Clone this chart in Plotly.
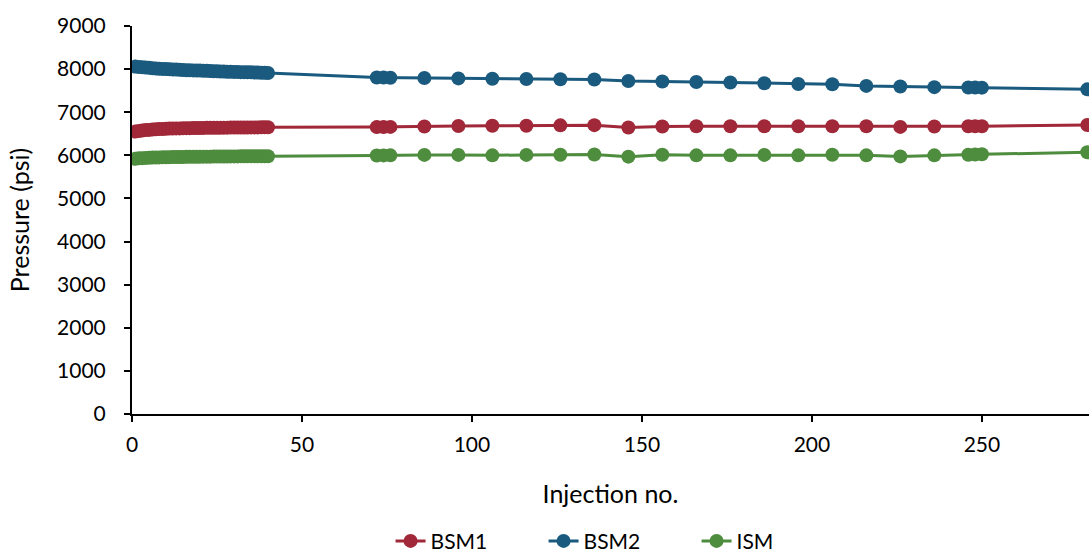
import plotly.graph_objects as go

# Injection numbers: dense run 1-40, then sparse checks out to 281
injection_early = list(range(1, 41))
injection_late = [72, 74, 76, 86, 96, 106, 116, 126, 136, 146, 156, 166, 176,
                  186, 196, 206, 216, 226, 236, 246, 248, 250, 281]
injection_no = injection_early + injection_late

# Column pressure (psi) for each injection
bsm1 = [6550, 6565, 6575, 6585, 6590, 6600, 6605, 6610, 6612, 6615,
        6620, 6620, 6625, 6625, 6628, 6630, 6630, 6632, 6635, 6635,
        6636, 6638, 6638, 6640, 6640, 6640, 6642, 6642, 6644, 6644,
        6645, 6645, 6646, 6646, 6648, 6648, 6648, 6650, 6650, 6650,
        6655, 6658, 6660, 6670, 6680, 6685, 6685, 6695, 6700, 6645,
        6670, 6675, 6675, 6675, 6675, 6675, 6675, 6660, 6670, 6675,
        6675, 6675, 6705]
bsm2 = [8060, 8050, 8045, 8035, 8030, 8020, 8015, 8010, 8005, 8000,
        7995, 7990, 7990, 7985, 7980, 7975, 7975, 7970, 7965, 7965,
        7960, 7960, 7955, 7950, 7950, 7945, 7945, 7940, 7940, 7935,
        7935, 7930, 7930, 7925, 7925, 7920, 7920, 7915, 7915, 7910,
        7805, 7803, 7800, 7795, 7785, 7775, 7770, 7765, 7760, 7725,
        7712, 7700, 7690, 7672, 7655, 7650, 7610, 7595, 7582, 7575,
        7572, 7570, 7530]
ism = [5920, 5930, 5935, 5940, 5945, 5948, 5950, 5952, 5955, 5955,
       5958, 5960, 5960, 5962, 5962, 5965, 5965, 5966, 5968, 5968,
       5970, 5970, 5970, 5972, 5972, 5972, 5974, 5974, 5975, 5975,
       5975, 5976, 5976, 5977, 5977, 5978, 5978, 5978, 5980, 5980,
       5995, 5998, 6000, 6010, 6010, 6000, 6010, 6015, 6020, 5970,
       6012, 6000, 6000, 6010, 6000, 6015, 6000, 5975, 6000, 6015,
       6020, 6025, 6070]

series = [
    ("BSM1", bsm1, "rgb(160,40,56)"),
    ("BSM2", bsm2, "rgb(26,90,126)"),
    ("ISM", ism, "rgb(78,140,62)"),
]

y_ticks = list(range(0, 9001, 1000))
x_ticks = list(range(0, 251, 50))

font_family = "Lato"

fig = go.Figure()
for name, values, color in series:
    fig.add_trace(go.Scatter(
        x=injection_no, y=values, name=name, mode="lines+markers",
        line=dict(color=color, width=3),
        marker=dict(color=color, size=14),
    ))

fig.update_layout(
    width=1089, height=552,
    margin=dict(l=132, r=0, t=26, b=138, autoexpand=False),
    paper_bgcolor="white", plot_bgcolor="white",
    font=dict(family=font_family, size=21, color="black"),
    showlegend=True,
    legend=dict(orientation="h", x=0.51, xanchor="center",
                y=-0.328, yanchor="middle", font=dict(size=21),
                entrywidth=108, traceorder="normal"),
)
fig.update_xaxes(
    range=[0, 281.5], tickvals=x_ticks, ticktext=[str(v) for v in x_ticks],
    showgrid=False, zeroline=False, automargin=False,
    showline=True, linecolor="black", linewidth=2,
    ticks="outside", ticklen=6, tickwidth=2, tickcolor="black",
    ticklabelstandoff=5,
    title=dict(text="Injection no.", standoff=30),
)
fig.update_yaxes(
    range=[0, 9000], tickvals=y_ticks, ticktext=[str(v) for v in y_ticks],
    showgrid=False, zeroline=False, automargin=False,
    showline=True, linecolor="black", linewidth=2,
    ticks="outside", ticklen=6, tickwidth=2, tickcolor="black",
    ticklabelstandoff=14,
    title=dict(text="Pressure (psi)", standoff=20),
)

fig.write_html("out.html")
